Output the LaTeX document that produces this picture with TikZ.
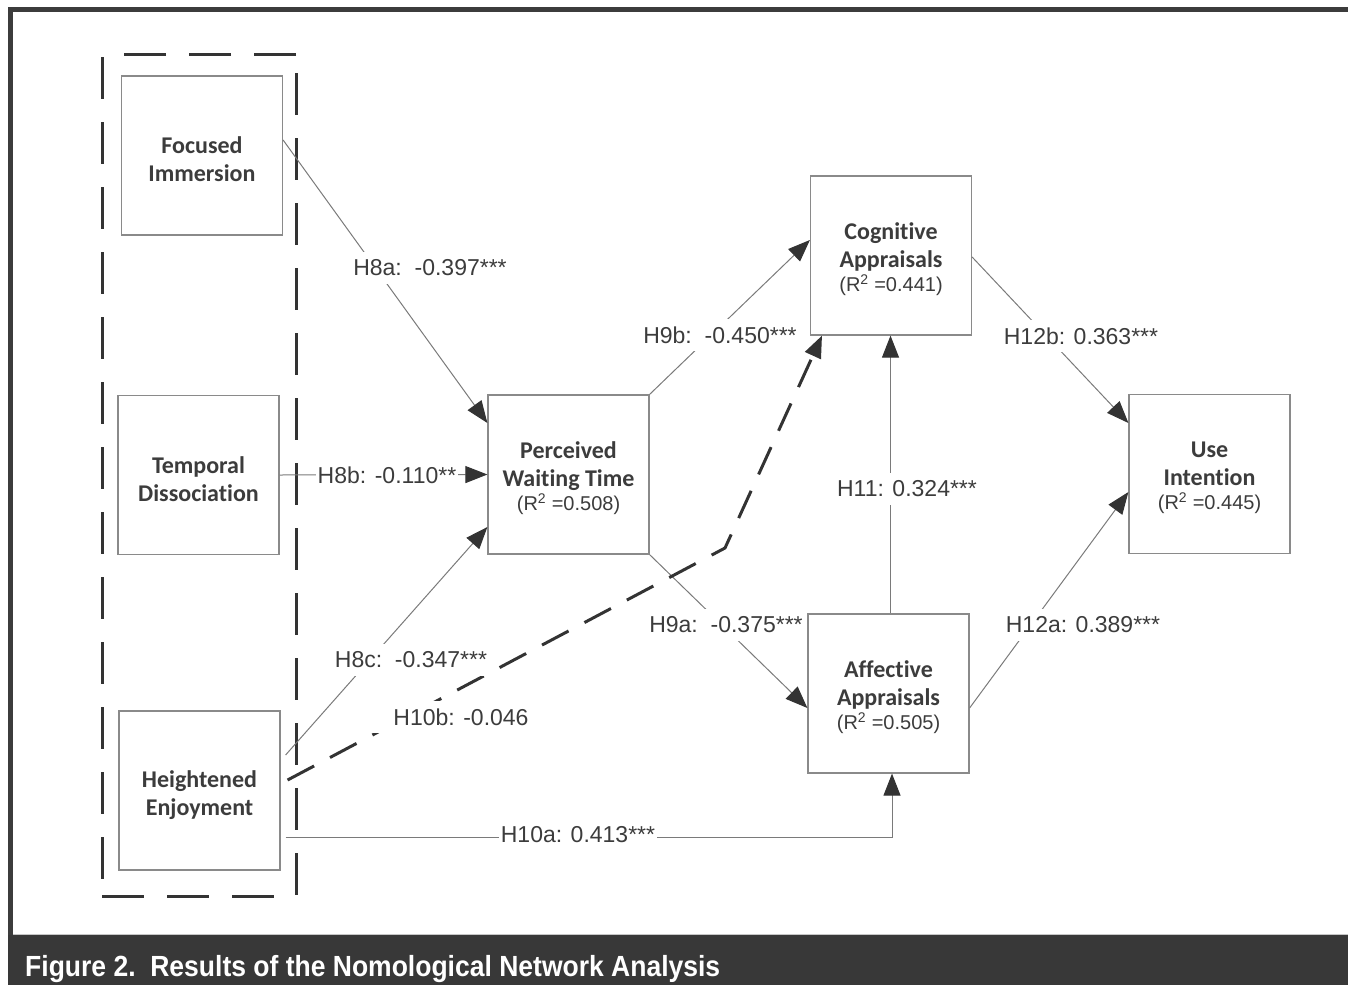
\documentclass[tikz,border=0pt]{standalone}
\usepackage{fontspec}
\setmainfont{Liberation Sans}
\newfontfamily\carlitofont[Ligatures={NoCommon}]{Carlito}
\usetikzlibrary{arrows.meta,calc}
\definecolor{txt}{HTML}{3C3C3C}
\definecolor{boxc}{HTML}{8A8A8A}
\definecolor{linec}{HTML}{7A7A7A}
\definecolor{dark}{HTML}{333333}
\definecolor{barc}{HTML}{383838}
\definecolor{framec}{HTML}{3C3C3C}
\newcommand\rsqtext[1]{{\normalfont\fontsize{20}{24}\selectfont (R\textsuperscript{2} =#1)}}
\begin{document}
\begin{tikzpicture}[x=1pt,y=-1pt,
  box/.style={draw=boxc,line width=1.2pt,fill=white,minimum width=161pt,minimum height=159pt,inner sep=0pt},
  boxtext/.style={inner sep=0pt,align=center,text=txt,font=\carlitofont\bfseries\fontsize{24}{28}\selectfont},
  lab/.style={fill=white,inner xsep=2pt,inner ysep=8pt,text=txt,font=\fontsize{23}{26}\selectfont},
  conn/.style={draw=linec,line width=1pt},
  arr/.style={-{Triangle[length=22pt,width=17pt,color=dark]}},
  grp/.style={draw=dark,line width=3pt,dash pattern=on 42pt off 23pt},
  dsh/.style={draw=dark,line width=3pt,dash pattern=on 30pt off 18pt},
]
\useasboundingbox (0,0) rectangle (1348,985);
% frame and caption bar
\fill[barc] (8,935) rectangle (1348,985);
\draw[gray!45,line width=1pt] (13,934.5) -- (1348,934.5);
\draw[framec,line width=5pt] (8,9.5) -- (1348,9.5);
\draw[framec,line width=5pt] (10.5,7) -- (10.5,935);
\node[anchor=base west,text=white,inner sep=0pt,font=\bfseries\fontsize{26.5}{30}\selectfont] (cap) at (25,976) {\scalebox{1}[1.1]{Figure 2.\ \ Results of the Nomological Network Analysis}};

% boxes
\node[box] (fi) at (202,155.5) {};
\node[box] (td) at (198.5,475) {};
\node[box] (he) at (199.5,790.5) {};
\node[box] (pwt) at (568.5,474.5) {};
\node[box] (ca) at (891,255.5) {};
\node[box] (aa) at (888.5,693.5) {};
\node[box] (ui) at (1209.5,474) {};
\node[boxtext] (fit) at ([yshift=-4pt]fi.center) {Focused\\Immersion};
\node[boxtext] (tdt) at ([yshift=-4pt]td.center) {Temporal\\Dissociation};
\node[boxtext] (het) at ([yshift=-5pt]he.center) {Heightened\\Enjoyment};
\node[boxtext] (pwtt) at ([yshift=-4pt]pwt.center) {Perceived\\Waiting Time\\[-4pt]\rsqtext{0.508}};
\node[boxtext] (cat) at ([yshift=-4pt]ca.center) {Cognitive\\Appraisals\\[-4pt]\rsqtext{0.441}};
\node[boxtext] (aat) at ([yshift=-4pt]aa.center) {Affective\\Appraisals\\[-4pt]\rsqtext{0.505}};
\node[boxtext] (uit) at ([yshift=-4pt]ui.center) {Use\\Intention\\[-4pt]\rsqtext{0.445}};

% group dashed box
\draw[grp] (102,896) -- (297,896);
\draw[grp] (296,894.5) -- (296,54);
\draw[grp] (296,54) -- (102,54);
\draw[grp] (102,57) -- (102,896);

% connectors
\coordinate (b10) at (725,548);
\draw[conn,arr] ([yshift=15.5pt]fi.east) -- ([yshift=51.5pt]pwt.west);
\draw[conn,arr] (td.east) -- (pwt.west);
\draw[conn,arr] ([xshift=5pt,yshift=35.5pt]he.east) -- ([yshift=-52.5pt]pwt.west);
\draw[conn,arr] (pwt.north east) -- ([yshift=15.5pt]ca.west);
\draw[conn,arr] (pwt.south east) -- ([yshift=-14.5pt]aa.west);
\draw[dsh,arr] ([xshift=7pt,yshift=10.5pt]he.east) -- (b10) -- ([xshift=-69pt]ca.south);
\draw[conn,arr] ([xshift=5pt,yshift=-46.5pt]he.east) -| ([xshift=3.5pt]aa.south);
\draw[conn,arr] ([xshift=2pt]aa.north) -- ([xshift=2pt]aa.north |- ca.south);
\draw[conn,arr] ([yshift=-1.5pt]ca.east) -- ([yshift=51pt]ui.west);
\draw[conn,arr] ([yshift=-14.5pt]aa.east) -- ([yshift=-18pt]ui.west);

% labels
\node[lab] (l8a) at (430,268) {H8a:\ \ -0.397***};
\node[lab] (l8b) at (387,475) {H8b: -0.110**};
\node[lab] (l8c) at (411,660) {H8c:\ \ -0.347***};
\node[lab] (l9b) at (720,335) {H9b:\ \ -0.450***};
\node[lab] (l9a) at (726,625) {H9a:\ \ -0.375***};
\node[lab,inner xsep=12pt] (l10b) at (457,717) {\hspace*{8pt}H10b: -0.046};
\node[lab] (l10a) at (578,835) {H10a: 0.413***};
\node[lab] (l11) at (907,489) {H11: 0.324***};
\node[lab] (l12b) at (1081,336) {H12b: 0.363***};
\node[lab] (l12a) at (1083,625) {H12a: 0.389***};
\end{tikzpicture}
\end{document}
